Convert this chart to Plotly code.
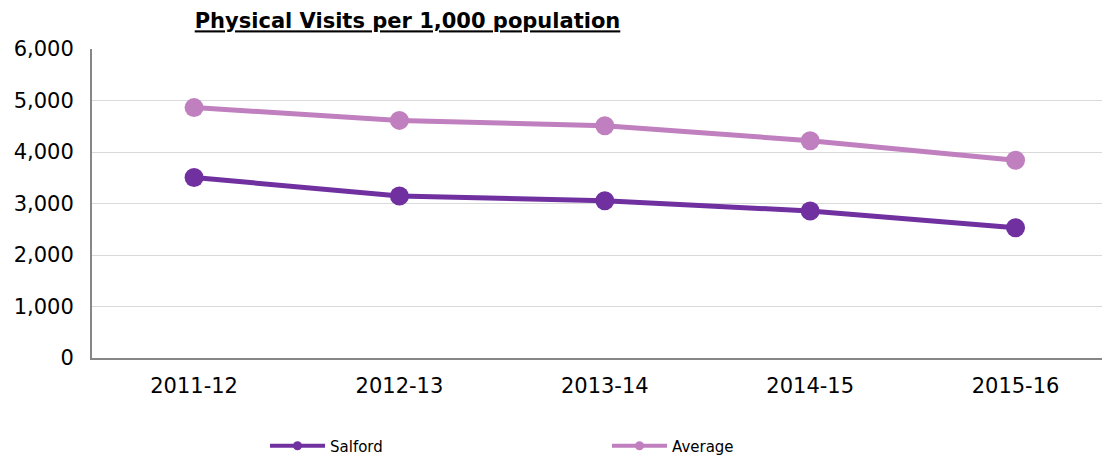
import plotly.graph_objects as go

years = ["2011-12", "2012-13", "2013-14", "2014-15", "2015-16"]
salford = [3505, 3146, 3054, 2854, 2530]
average = [4862, 4614, 4510, 4219, 3839]

SALFORD_COLOR = "#7030A0"
AVERAGE_COLOR = "#C07FBE"
FONT = "DejaVu Sans, Verdana, sans-serif"

OFF = 8  # page body margin offset of the browser
W, H = 1110 - OFF, 457 - OFF
L, R, T, B = 92 - OFF, 1110 - OFF, 49 - OFF, 358 - OFF  # plot area in figure pixels
PW, PH = R - L, B - T


def px_x(x):
    return (x - OFF - L) / PW


def px_y(y):
    return (B - (y - OFF)) / PH


fig = go.Figure()
fig.add_trace(go.Scatter(x=years, y=salford, mode="lines+markers", name="Salford",
                         line=dict(color=SALFORD_COLOR, width=5),
                         marker=dict(color=SALFORD_COLOR, size=19), showlegend=False))
fig.add_trace(go.Scatter(x=years, y=average, mode="lines+markers", name="Average",
                         line=dict(color=AVERAGE_COLOR, width=5),
                         marker=dict(color=AVERAGE_COLOR, size=19), showlegend=False))
# legend entries
fig.add_trace(go.Scatter(x=[None], y=[None], mode="lines+markers", name="Salford",
                         line=dict(color=SALFORD_COLOR, width=4),
                         marker=dict(color=SALFORD_COLOR, size=9)))
fig.add_trace(go.Scatter(x=[None], y=[None], mode="lines+markers", name="Average",
                         line=dict(color=AVERAGE_COLOR, width=4),
                         marker=dict(color=AVERAGE_COLOR, size=9)))

fig.update_layout(
    width=W, height=H,
    margin=dict(l=L, r=W - R, t=T, b=H - B, autoexpand=False),
    paper_bgcolor="white", plot_bgcolor="white",
    font=dict(family=FONT, color="black"),
    title=dict(text="<b><u>Physical Visits per 1,000 population</u></b>",
               x=(407.5 - OFF) / W, xanchor="center", y=1 - (21 - OFF) / H, yanchor="middle",
               font=dict(size=21, family=FONT, color="black")),
    showlegend=True,
    legend=dict(orientation="h", x=px_x(265), xanchor="left", y=px_y(446), yanchor="middle",
                font=dict(size=15, family=FONT), itemwidth=55,
                entrywidth=272, entrywidthmode="pixels", bgcolor="rgba(0,0,0,0)"),
    xaxis=dict(type="category", range=[-0.497, 4.46], showgrid=False,
               showline=True, linecolor="#868686", linewidth=2,
               ticks="", tickfont=dict(size=21, family=FONT), ticklabelstandoff=8),
    yaxis=dict(range=[0, 6000], dtick=1000, tickformat=",", showgrid=True,
               gridcolor="#D9D9D9", gridwidth=1, zeroline=False,
               showline=True, linecolor="#868686", linewidth=2,
               ticks="", tickfont=dict(size=21, family=FONT), ticklabelstandoff=12),
)

fig.write_html("out.html")
